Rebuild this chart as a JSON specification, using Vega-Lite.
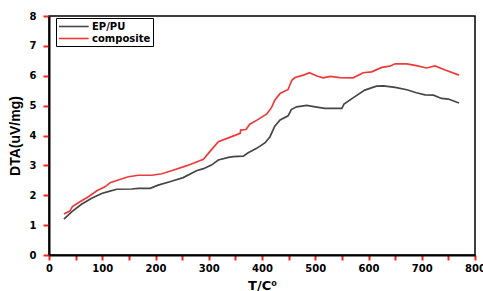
{
  "$schema": "https://vega.github.io/schema/vega-lite/v6.json",
  "width": 426,
  "height": 239,
  "autosize": {"type": "none"},
  "padding": {"left": 49, "top": 16, "right": 8, "bottom": 36},
  "background": "white",
  "config": {
    "view": {"stroke": "black", "strokeWidth": 1.5},
    "font": "DejaVu Sans"
  },
  "data": {
    "values": [
      {"T": 28, "v": 1.20, "s": "EP/PU"},
      {"T": 43, "v": 1.45, "s": "EP/PU"},
      {"T": 61, "v": 1.70, "s": "EP/PU"},
      {"T": 80, "v": 1.90, "s": "EP/PU"},
      {"T": 99, "v": 2.06, "s": "EP/PU"},
      {"T": 111, "v": 2.12, "s": "EP/PU"},
      {"T": 127, "v": 2.20, "s": "EP/PU"},
      {"T": 155, "v": 2.21, "s": "EP/PU"},
      {"T": 168, "v": 2.23, "s": "EP/PU"},
      {"T": 190, "v": 2.23, "s": "EP/PU"},
      {"T": 205, "v": 2.34, "s": "EP/PU"},
      {"T": 230, "v": 2.47, "s": "EP/PU"},
      {"T": 252, "v": 2.59, "s": "EP/PU"},
      {"T": 277, "v": 2.82, "s": "EP/PU"},
      {"T": 290, "v": 2.89, "s": "EP/PU"},
      {"T": 305, "v": 3.01, "s": "EP/PU"},
      {"T": 318, "v": 3.18, "s": "EP/PU"},
      {"T": 337, "v": 3.27, "s": "EP/PU"},
      {"T": 346, "v": 3.29, "s": "EP/PU"},
      {"T": 365, "v": 3.31, "s": "EP/PU"},
      {"T": 374, "v": 3.42, "s": "EP/PU"},
      {"T": 390, "v": 3.57, "s": "EP/PU"},
      {"T": 406, "v": 3.76, "s": "EP/PU"},
      {"T": 415, "v": 3.96, "s": "EP/PU"},
      {"T": 424, "v": 4.31, "s": "EP/PU"},
      {"T": 434, "v": 4.52, "s": "EP/PU"},
      {"T": 449, "v": 4.66, "s": "EP/PU"},
      {"T": 455, "v": 4.87, "s": "EP/PU"},
      {"T": 465, "v": 4.96, "s": "EP/PU"},
      {"T": 484, "v": 5.01, "s": "EP/PU"},
      {"T": 500, "v": 4.96, "s": "EP/PU"},
      {"T": 518, "v": 4.91, "s": "EP/PU"},
      {"T": 550, "v": 4.91, "s": "EP/PU"},
      {"T": 554, "v": 5.05, "s": "EP/PU"},
      {"T": 571, "v": 5.26, "s": "EP/PU"},
      {"T": 593, "v": 5.52, "s": "EP/PU"},
      {"T": 615, "v": 5.65, "s": "EP/PU"},
      {"T": 628, "v": 5.66, "s": "EP/PU"},
      {"T": 650, "v": 5.61, "s": "EP/PU"},
      {"T": 672, "v": 5.53, "s": "EP/PU"},
      {"T": 690, "v": 5.43, "s": "EP/PU"},
      {"T": 706, "v": 5.36, "s": "EP/PU"},
      {"T": 722, "v": 5.35, "s": "EP/PU"},
      {"T": 737, "v": 5.24, "s": "EP/PU"},
      {"T": 750, "v": 5.22, "s": "EP/PU"},
      {"T": 770, "v": 5.09, "s": "EP/PU"},
      {"T": 28, "v": 1.37, "s": "composite"},
      {"T": 39, "v": 1.47, "s": "composite"},
      {"T": 44, "v": 1.62, "s": "composite"},
      {"T": 55, "v": 1.75, "s": "composite"},
      {"T": 74, "v": 1.95, "s": "composite"},
      {"T": 90, "v": 2.15, "s": "composite"},
      {"T": 105, "v": 2.28, "s": "composite"},
      {"T": 115, "v": 2.42, "s": "composite"},
      {"T": 130, "v": 2.51, "s": "composite"},
      {"T": 149, "v": 2.62, "s": "composite"},
      {"T": 168, "v": 2.67, "s": "composite"},
      {"T": 193, "v": 2.67, "s": "composite"},
      {"T": 212, "v": 2.72, "s": "composite"},
      {"T": 230, "v": 2.82, "s": "composite"},
      {"T": 259, "v": 2.99, "s": "composite"},
      {"T": 290, "v": 3.20, "s": "composite"},
      {"T": 302, "v": 3.46, "s": "composite"},
      {"T": 318, "v": 3.79, "s": "composite"},
      {"T": 337, "v": 3.92, "s": "composite"},
      {"T": 359, "v": 4.07, "s": "composite"},
      {"T": 360, "v": 4.18, "s": "composite"},
      {"T": 370, "v": 4.20, "s": "composite"},
      {"T": 377, "v": 4.38, "s": "composite"},
      {"T": 393, "v": 4.54, "s": "composite"},
      {"T": 409, "v": 4.72, "s": "composite"},
      {"T": 418, "v": 4.94, "s": "composite"},
      {"T": 424, "v": 5.18, "s": "composite"},
      {"T": 434, "v": 5.41, "s": "composite"},
      {"T": 449, "v": 5.54, "s": "composite"},
      {"T": 456, "v": 5.85, "s": "composite"},
      {"T": 462, "v": 5.94, "s": "composite"},
      {"T": 478, "v": 6.02, "s": "composite"},
      {"T": 489, "v": 6.10, "s": "composite"},
      {"T": 503, "v": 5.99, "s": "composite"},
      {"T": 515, "v": 5.93, "s": "composite"},
      {"T": 528, "v": 5.98, "s": "composite"},
      {"T": 546, "v": 5.94, "s": "composite"},
      {"T": 571, "v": 5.93, "s": "composite"},
      {"T": 590, "v": 6.10, "s": "composite"},
      {"T": 606, "v": 6.13, "s": "composite"},
      {"T": 625, "v": 6.28, "s": "composite"},
      {"T": 640, "v": 6.32, "s": "composite"},
      {"T": 650, "v": 6.40, "s": "composite"},
      {"T": 672, "v": 6.40, "s": "composite"},
      {"T": 690, "v": 6.34, "s": "composite"},
      {"T": 709, "v": 6.26, "s": "composite"},
      {"T": 725, "v": 6.33, "s": "composite"},
      {"T": 744, "v": 6.19, "s": "composite"},
      {"T": 770, "v": 6.02, "s": "composite"}
    ]
  },
  "mark": {"type": "line", "strokeWidth": 1.7},
  "encoding": {
    "x": {
      "field": "T", "type": "quantitative",
      "scale": {"domain": [0, 800], "nice": false},
      "axis": {
        "orient": "bottom",
        "values": [0, 50, 100, 150, 200, 250, 300, 350, 400, 450, 500, 550, 600, 650, 700, 750, 800],
        "format": "d",
        "labelExpr": "datum.value % 100 ? '' : datum.label",
        "grid": false, "domainColor": "black", "domainWidth": 2,
        "tickColor": "#ff2020", "tickSize": 5, "tickWidth": 2,
        "labelFont": "DejaVu Sans", "labelFontWeight": "bold",
        "labelFontSize": 10, "labelColor": "black", "labelPadding": 3,
        "labelFlush": false,
        "encode": {"ticks": {"update": {"y2": {"signal": "datum.value % 100 ? 3 : 5"}}}},
        "title": "T/C⁰", "titleFont": "DejaVu Sans", "titleFontWeight": "bold",
        "titleFontSize": 13, "titleColor": "black", "titlePadding": 6
      }
    },
    "y": {
      "field": "v", "type": "quantitative",
      "scale": {"domain": [0, 8], "nice": false},
      "axis": {
        "orient": "left",
        "values": [0, 0.5, 1, 1.5, 2, 2.5, 3, 3.5, 4, 4.5, 5, 5.5, 6, 6.5, 7, 7.5, 8],
        "format": "d",
        "labelExpr": "datum.value % 1 ? '' : datum.label",
        "grid": false, "domainColor": "black", "domainWidth": 2,
        "tickColor": "#ff2020", "tickSize": 6, "tickWidth": 2,
        "labelFont": "DejaVu Sans", "labelFontWeight": "bold",
        "labelFontSize": 10, "labelColor": "black", "labelPadding": 7,
        "labelFlush": false,
        "encode": {"ticks": {"update": {"x2": {"signal": "datum.value % 1 ? -3 : -6"}}}},
        "title": "DTA(uV/mg)", "titleFont": "Liberation Sans", "titleFontWeight": "bold",
        "titleFontSize": 14, "titleColor": "black", "titlePadding": 7
      }
    },
    "color": {
      "field": "s", "type": "nominal",
      "scale": {"domain": ["EP/PU", "composite"], "range": ["#464646", "#ee3a3a"]},
      "legend": {
        "orient": "none", "legendX": 7, "legendY": 2,
        "title": null,
        "direction": "vertical",
        "strokeColor": "black",
        "padding": 2,
        "symbolType": "M-1,0H4.4", "symbolSize": 121, "symbolStrokeWidth": 1.6,
        "labelFont": "DejaVu Sans", "labelFontWeight": "bold",
        "labelFontSize": 10, "labelColor": "black",
        "rowPadding": 0, "labelOffset": 21,
        "fillColor": "white"
      }
    }
  }
}
